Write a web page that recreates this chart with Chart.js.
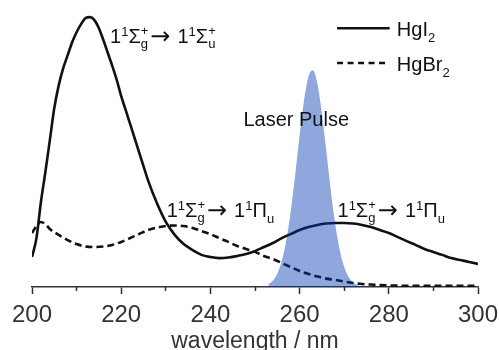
<!DOCTYPE html>
<html><head><meta charset="utf-8">
<script src="https://cdn.jsdelivr.net/npm/chart.js@4/dist/chart.umd.min.js"></script>
<style>html,body{margin:0;padding:0;background:#fff}</style>
</head><body>
<canvas id="c" width="499" height="350"></canvas>
<script>
// ---- data ----
const wlHgI2 = [200,201,202,203,204,205,206,207,208,209,210,211,212,213,214,215,216,217,218,219,220,221,222,223,224,225,226,228,230,232,234,236,238,240,242,244,246,248,250,252,254,256,258,260,262,264,266,268,270,272,274,276,278,280,282,284,286,288,290,292,294,296,298,300];
const absHgI2 = [0.111,0.181,0.315,0.426,0.544,0.663,0.748,0.811,0.859,0.907,0.944,0.974,0.996,1.000,0.989,0.959,0.915,0.867,0.819,0.767,0.707,0.656,0.604,0.552,0.500,0.448,0.396,0.311,0.241,0.193,0.159,0.137,0.119,0.111,0.107,0.109,0.115,0.122,0.133,0.148,0.163,0.181,0.196,0.211,0.222,0.230,0.235,0.237,0.237,0.235,0.230,0.222,0.211,0.200,0.185,0.170,0.156,0.141,0.130,0.119,0.107,0.100,0.093,0.085];

const wlHgBr2 = [200,201,202,203,204,206,208,210,212,214,216,218,220,222,224,226,228,230,232,234,236,238,240,242,244,246,248,250,252,254,256,258,260,262,264,266,268,270,272,274,276,278,280,285,290,295,300];
const absHgBr2 = [0.200,0.226,0.241,0.233,0.215,0.193,0.174,0.159,0.150,0.148,0.150,0.156,0.167,0.181,0.196,0.211,0.220,0.226,0.228,0.226,0.219,0.207,0.196,0.181,0.167,0.152,0.141,0.130,0.115,0.104,0.089,0.074,0.059,0.048,0.039,0.031,0.026,0.020,0.015,0.011,0.009,0.007,0.006,0.004,0.004,0.004,0.004];

const wlPulse = [253,254,255,256,257,258,259,260,261,262,263,264,265,266,267,268,269,270,271,272,273,274];
const intPulse = [0.010,0.023,0.049,0.096,0.171,0.279,0.414,0.561,0.692,0.780,0.803,0.752,0.643,0.502,0.357,0.232,0.137,0.074,0.037,0.016,0.007,0.000];

const xTicksMajor = [200,220,240,260,280,300];
const xTicksMinor = [210,230,250,270,290];
const axisTitle = 'wavelength / nm';
const seriesNames = [['HgI','2'],['HgBr','2']];

// ---- helpers ----
const FONT = '"Liberation Sans", Arial, Helvetica, sans-serif';
const pts = (xs, ys) => xs.map((x, i) => ({x, y: ys[i]}));

// rich text: segments [type, a, b]
function rich(ctx, x, y, segs, big, small) {
  ctx.textBaseline = 'alphabetic';
  ctx.textAlign = 'left';
  for (const [type, a, b] of segs) {
    if (type === 'n') {
      ctx.font = big + 'px ' + FONT; ctx.fillText(a, x, y); x += ctx.measureText(a).width;
    } else if (type === 'sup') {
      ctx.font = small + 'px ' + FONT; ctx.fillText(a, x, y - 7); x += ctx.measureText(a).width;
    } else if (type === 'sub') {
      ctx.font = small + 'px ' + FONT; ctx.fillText(a, x, y + 6); x += ctx.measureText(a).width;
    } else if (type === 'ss') { // sub a, sup b stacked
      ctx.font = small + 'px ' + FONT;
      ctx.fillText(a, x, y + 5);
      ctx.fillText(b, x, y - 8);
      x += Math.max(ctx.measureText(a).width, ctx.measureText(b).width);
    } else if (type === 'arr') {
      x += 2;
      ctx.font = '24px "DejaVu Sans", sans-serif';
      ctx.fillText(a, x, y + 1); x += ctx.measureText(a).width + 7;
    }
  }
}
const SS = [['n','1'],['sup','1'],['n','Σ'],['ss','g','+'],['arr','→'],['n','1'],['sup','1'],['n','Σ'],['ss','u','+']];
const SP = [['n','1'],['sup','1'],['n','Σ'],['ss','g','+'],['arr','→'],['n','1'],['sup','1'],['n','Π'],['sub','u']];

const labels = [
  {x: 217.5, y: 0.904, segs: SS},
  {x: 230.2, y: 0.259, segs: SP},
  {x: 268.5, y: 0.259, segs: SP},
];

const annot = {
  id: 'annot',
  afterDatasetsDraw(chart) {
    const {ctx, scales: {x, y}} = chart;
    ctx.save();
    ctx.fillStyle = '#111';
    for (const l of labels) rich(ctx, x.getPixelForValue(l.x), y.getPixelForValue(l.y), l.segs, 20, 13);
    ctx.font = '20px ' + FONT;
    ctx.fillText('Laser Pulse', x.getPixelForValue(247.4), y.getPixelForValue(0.596));
    // legend
    const lx0 = x.getPixelForValue(268.4), lx1 = x.getPixelForValue(280.2), tx = x.getPixelForValue(281.8);
    ctx.strokeStyle = '#111'; ctx.lineWidth = 2.5;
    let ly = y.getPixelForValue(0.959);
    ctx.beginPath(); ctx.moveTo(lx0, ly); ctx.lineTo(lx1, ly); ctx.stroke();
    rich(ctx, tx, y.getPixelForValue(0.930), [['n', seriesNames[0][0]], ['sub', seriesNames[0][1]]], 20, 13);
    ly = y.getPixelForValue(0.830);
    ctx.setLineDash([6, 4.5]);
    ctx.beginPath(); ctx.moveTo(lx0, ly); ctx.lineTo(x.getPixelForValue(279.2), ly); ctx.stroke();
    ctx.setLineDash([]);
    rich(ctx, tx, y.getPixelForValue(0.800), [['n', seriesNames[1][0]], ['sub', seriesNames[1][1]]], 20, 13);
    ctx.restore();
  }
};

new Chart(document.getElementById('c'), {
  type: 'line',
  data: {
    datasets: [
      {label: 'Laser Pulse', data: pts(wlPulse, intPulse), fill: 'origin', backgroundColor: 'rgba(0,55,175,0.44)', borderWidth: 0, pointRadius: 0, cubicInterpolationMode: 'monotone', order: 0},
      {label: 'HgI2', data: pts(wlHgI2, absHgI2), borderColor: '#111', borderWidth: 2.6, pointRadius: 0, fill: false, cubicInterpolationMode: 'monotone', order: 1},
      {label: 'HgBr2', data: pts(wlHgBr2, absHgBr2), borderColor: '#111', borderWidth: 2.6, borderDash: [7, 4], pointRadius: 0, fill: false, cubicInterpolationMode: 'monotone', order: 2},
    ]
  },
  options: {
    responsive: false,
    animation: false,
    events: [],
    layout: {padding: {left: 32, right: 21, top: 9, bottom: 0}},
    plugins: {legend: {display: false}, tooltip: {enabled: false}},
    scales: {
      x: {
        type: 'linear', min: 200, max: 300, weight: 1,
        afterBuildTicks: (s) => { s.ticks = xTicksMajor.map(v => ({value: v})); },
        afterFit: (s) => { s.height = 63; s.paddingLeft = 0; s.paddingRight = 0; },
        ticks: {font: {family: FONT, size: 24}, color: '#333', padding: 7, maxRotation: 0, autoSkip: false},
        grid: {drawOnChartArea: false, tickLength: 7, tickColor: '#333', tickWidth: 1.5},
        border: {color: '#333', width: 1.5},
        title: {display: true, text: axisTitle, font: {family: FONT, size: 23}, color: '#333', padding: {top: 0, bottom: -5}}
      },
      xMinor: {
        type: 'linear', position: 'bottom', min: 200, max: 300, weight: 0,
        afterBuildTicks: (s) => { s.ticks = xTicksMinor.map(v => ({value: v})); },
        afterFit: (s) => { s.height = 0; s.paddingLeft = 0; s.paddingRight = 0; },
        ticks: {display: false},
        grid: {drawOnChartArea: false, tickLength: 4, tickColor: '#333', tickWidth: 1.5},
        border: {display: false}
      },
      y: {display: false, min: 0, max: 1.03}
    }
  },
  plugins: [annot]
});
</script>
</body></html>
